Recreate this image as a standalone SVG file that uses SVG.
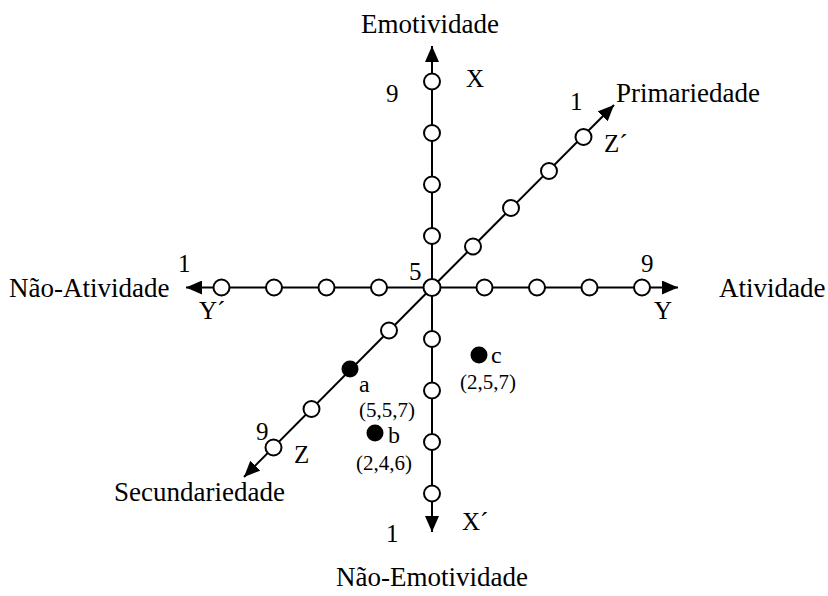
<svg xmlns="http://www.w3.org/2000/svg" width="828" height="596" viewBox="0 0 828 596">
  <style>
    text { font-family: "Liberation Serif", "Times New Roman", serif; fill: #000; }
    .axis-name { font-size: 27px; }
    .mark { font-size: 25px; }
    .coord { font-size: 21px; }
    .pt { font-size: 24px; }
    .axis { stroke: #000; stroke-width: 2; fill: none; }
    .tick { fill: #fff; stroke: #000; stroke-width: 2; }
    .dot { fill: #000; }
  </style>
  <defs>
    <marker id="arrow" viewBox="0 0 16 14" refX="16" refY="7" markerWidth="16" markerHeight="14" markerUnits="userSpaceOnUse" orient="auto">
      <path d="M0,0 L16,7 L0,14 Z" fill="#000"/>
    </marker>
  </defs>

  <g id="connectors">
    <!-- X axis: Emotividade / Não-Emotividade -->
    <line class="axis" x1="432" y1="287.5" x2="432" y2="46" marker-end="url(#arrow)"/>
    <line class="axis" x1="432" y1="287.5" x2="432" y2="532" marker-end="url(#arrow)"/>
    <!-- Y axis: Atividade / Não-Atividade -->
    <line class="axis" x1="432" y1="287.5" x2="678" y2="287.5" marker-end="url(#arrow)"/>
    <line class="axis" x1="432" y1="287.5" x2="186" y2="287.5" marker-end="url(#arrow)"/>
    <!-- Z axis: Primariedade / Secundariedade -->
    <line class="axis" x1="432" y1="287.5" x2="614" y2="105" marker-end="url(#arrow)"/>
    <line class="axis" x1="432" y1="287.5" x2="244" y2="477" marker-end="url(#arrow)"/>
  </g>

  <g id="axis-x-ticks">
    <circle class="tick" cx="432" cy="81.5" r="8"/>
    <circle class="tick" cx="432" cy="133" r="8"/>
    <circle class="tick" cx="432" cy="184.5" r="8"/>
    <circle class="tick" cx="432" cy="236" r="8"/>
    <circle class="tick" cx="432" cy="339" r="8"/>
    <circle class="tick" cx="432" cy="390.5" r="8"/>
    <circle class="tick" cx="432" cy="442" r="8"/>
    <circle class="tick" cx="432" cy="493.5" r="8"/>
  </g>

  <g id="axis-y-ticks">
    <circle class="tick" cx="221.5" cy="287.5" r="8"/>
    <circle class="tick" cx="274" cy="287.5" r="8"/>
    <circle class="tick" cx="326.5" cy="287.5" r="8"/>
    <circle class="tick" cx="379" cy="287.5" r="8"/>
    <circle class="tick" cx="484.5" cy="287.5" r="8"/>
    <circle class="tick" cx="537" cy="287.5" r="8"/>
    <circle class="tick" cx="589.5" cy="287.5" r="8"/>
    <circle class="tick" cx="642" cy="287.5" r="8"/>
  </g>

  <g id="axis-z-ticks">
    <circle class="tick" cx="473" cy="246.5" r="8"/>
    <circle class="tick" cx="511" cy="208" r="8"/>
    <circle class="tick" cx="549" cy="171" r="8"/>
    <circle class="tick" cx="583.5" cy="137" r="8"/>
    <circle class="tick" cx="389" cy="330.5" r="8"/>
    <circle class="tick" cx="311.5" cy="409" r="8"/>
    <circle class="tick" cx="273.5" cy="447.5" r="8"/>
  </g>

  <g id="origin">
    <circle class="tick" cx="432" cy="287.5" r="8.5"/>
    <text class="mark" x="409" y="280">5</text>
  </g>

  <g id="point-a">
    <circle class="dot" cx="350" cy="369" r="8.5"/>
    <text class="pt" x="359" y="392">a</text>
    <text class="coord" x="359" y="417">(5,5,7)</text>
  </g>
  <g id="point-b">
    <circle class="dot" cx="375" cy="433" r="8.5"/>
    <text class="pt" x="388" y="443">b</text>
    <text class="coord" x="356" y="470">(2,4,6)</text>
  </g>
  <g id="point-c">
    <circle class="dot" cx="479" cy="355" r="8.5"/>
    <text class="pt" x="491" y="363">c</text>
    <text class="coord" x="460" y="389">(2,5,7)</text>
  </g>

  <g id="label-emotividade">
    <text class="axis-name" x="430" y="33" text-anchor="middle">Emotividade</text>
    <text class="mark" x="386" y="102">9</text>
    <text class="mark" x="466" y="87">X</text>
  </g>
  <g id="label-nao-emotividade">
    <text class="axis-name" x="432" y="586" text-anchor="middle">Não-Emotividade</text>
    <text class="mark" x="386" y="542">1</text>
    <text class="mark" x="462" y="530">X´</text>
  </g>
  <g id="label-atividade">
    <text class="axis-name" x="719" y="297">Atividade</text>
    <text class="mark" x="641" y="272">9</text>
    <text class="mark" x="654" y="319">Y</text>
  </g>
  <g id="label-nao-atividade">
    <text class="axis-name" x="9" y="297">Não-Atividade</text>
    <text class="mark" x="178" y="272">1</text>
    <text class="mark" x="199" y="319">Y´</text>
  </g>
  <g id="label-primariedade">
    <text class="axis-name" x="616" y="102">Primariedade</text>
    <text class="mark" x="570" y="110">1</text>
    <text class="mark" x="604" y="152">Z´</text>
  </g>
  <g id="label-secundariedade">
    <text class="axis-name" x="114" y="501">Secundariedade</text>
    <text class="mark" x="256" y="440">9</text>
    <text class="mark" x="294" y="463">Z</text>
  </g>
</svg>
